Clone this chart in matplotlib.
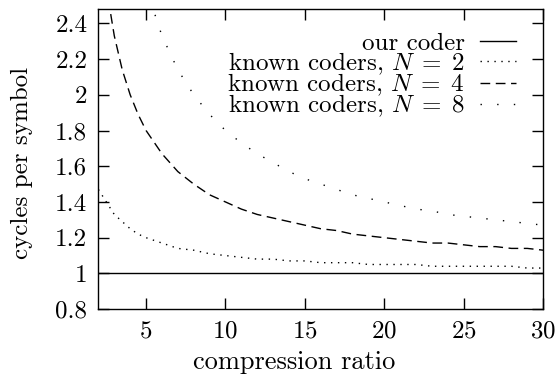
import numpy as np
import matplotlib.pyplot as plt

plt.rcParams['font.family'] = 'cmr10'
plt.rcParams['mathtext.fontset'] = 'cm'
plt.rcParams['axes.formatter.use_mathtext'] = True
plt.rcParams['xtick.direction'] = 'in'
plt.rcParams['ytick.direction'] = 'in'
plt.rc('font', size=18)

# compression ratio
ratio = [2, 2.5, 3, 3.5, 4, 4.5, 5, 6, 7, 8, 9, 10, 11, 12, 13, 14, 15, 16, 17, 18, 19, 20,
         21, 22, 23, 24, 25, 26, 27, 28, 29, 30]
ours = [1.0] * len(ratio)
n2 = [1.47, 1.40, 1.33, 1.29, 1.25, 1.22, 1.20, 1.17, 1.14, 1.13, 1.11, 1.10, 1.09, 1.08, 1.08,
      1.07, 1.07, 1.06, 1.06, 1.06, 1.05, 1.05, 1.05, 1.05, 1.04, 1.04, 1.04, 1.04, 1.04, 1.04,
      1.03, 1.03]
n4 = [3.00, 2.60, 2.33, 2.14, 2.00, 1.89, 1.80, 1.67, 1.57, 1.50, 1.44, 1.40, 1.36, 1.33, 1.31,
      1.29, 1.27, 1.25, 1.24, 1.22, 1.21, 1.20, 1.19, 1.18, 1.17, 1.17, 1.16, 1.15, 1.15, 1.14,
      1.14, 1.13]
n8 = [5.00, 4.20, 3.67, 3.29, 3.00, 2.78, 2.60, 2.33, 2.14, 2.00, 1.89, 1.80, 1.73, 1.67, 1.62,
      1.57, 1.53, 1.50, 1.47, 1.44, 1.42, 1.40, 1.38, 1.36, 1.35, 1.33, 1.32, 1.31, 1.30, 1.29,
      1.28, 1.27]

fig = plt.figure(figsize=(5.56, 3.77), dpi=100)
ax = fig.add_axes([0.177, 0.180, 0.800, 0.796])

ax.plot(ratio, ours, color='black', lw=1.0, label='our coder')
ax.plot(ratio, n2, color='black', lw=1.0, ls=(0, (1, 4)), label=r'known coders, $N\;=\;2$')
ax.plot(ratio, n4, color='black', lw=1.0, ls=(0, (7, 4)), label=r'known coders, $N\;=\;4$')
ax.plot(ratio, n8, color='black', lw=1.0, ls=(0, (1, 11)), label=r'known coders, $N\;=\;8$')

ax.set_xlim(2, 30)
ax.set_ylim(0.8, 2.48)
ax.set_xticks([5, 10, 15, 20, 25, 30])
ax.set_yticks([0.8, 1, 1.2, 1.4, 1.6, 1.8, 2, 2.2, 2.4])
ax.set_yticklabels(['0.8', '1', '1.2', '1.4', '1.6', '1.8', '2', '2.2', '2.4'])
ax.tick_params(top=True, right=True, length=8, width=1.0, pad=8)
for s in ax.spines.values():
    s.set_linewidth(1.0)

ax.set_xlabel('compression ratio', fontsize=19)
ax.set_ylabel('cycles per symbol')
ax.xaxis.set_label_coords(0.441, -0.137)
ax.yaxis.set_label_coords(-0.148, 0.488)

ax.legend(loc='upper right', bbox_to_anchor=(0.962, 0.955), frameon=False, markerfirst=False,
          handlelength=1.45, handletextpad=0.6, labelspacing=-0.2, borderaxespad=0)

plt.savefig('out.png')
